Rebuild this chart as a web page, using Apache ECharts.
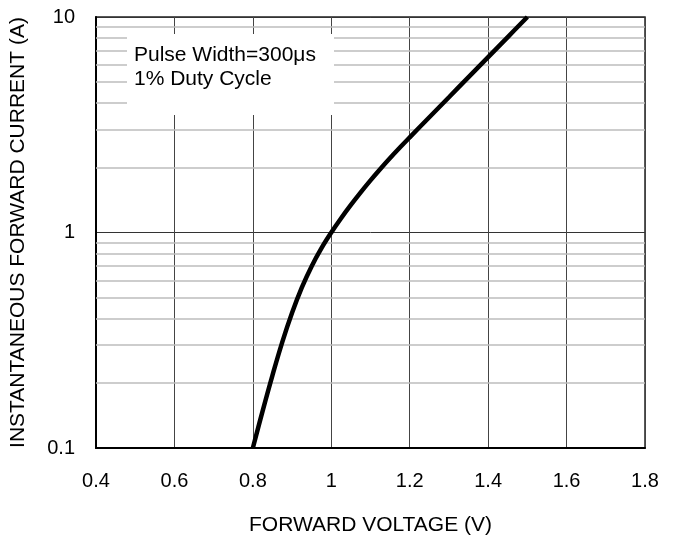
<!DOCTYPE html>
<html>
<head>
<meta charset="utf-8">
<script src="https://cdn.jsdelivr.net/npm/echarts@6/dist/echarts.min.js"></script>
<style>
html,body{margin:0;padding:0;background:#fff;}
#chart{width:678px;height:541px;}
</style>
</head>
<body>
<div id="chart"></div>
<script>
var voltage = [0.8, 0.825, 0.85, 0.875, 0.9, 0.925, 0.95, 0.975, 1.0, 1.025, 1.05, 1.075, 1.1, 1.125, 1.15, 1.175, 1.2, 1.25, 1.3, 1.35, 1.4, 1.45, 1.5];
var current = [0.1, 0.1488, 0.2175, 0.31, 0.424, 0.556, 0.698, 0.846, 1.0, 1.165, 1.343, 1.536, 1.746, 1.972, 2.217, 2.48, 2.765, 3.426, 4.244, 5.258, 6.514, 8.07, 10];
var minorLines = [0.2, 0.3, 0.4, 0.5, 0.6, 0.7, 0.8, 0.9, 2, 3, 4, 5, 6, 7, 8, 9];
var xTicks = [0.4, 0.6, 0.8, 1, 1.2, 1.4, 1.6, 1.8];
var yTicks = [0.1, 1, 10];
var noteLines = ['Pulse Width=300\u03bcs', '1% Duty Cycle'];

var font = 'Liberation Sans, Arial, sans-serif';
var chart = echarts.init(document.getElementById('chart'));
var curveData = voltage.map(function (v, i) { return [v, current[i]]; });

chart.setOption({
  animation: false,
  backgroundColor: '#fff',
  grid: { left: 95, right: 33, top: 17, bottom: 91, show: true, borderColor: '#222', borderWidth: 1.5, backgroundColor: 'transparent' },
  xAxis: {
    type: 'value', min: 0.4, max: 1.8, interval: 0.2,
    name: 'FORWARD VOLTAGE (V)', nameLocation: 'middle', nameGap: 67,
    nameTextStyle: { fontFamily: font, fontSize: 21, color: '#000' },
    axisLine: { show: true, lineStyle: { color: '#000', width: 2 } },
    axisTick: { show: false },
    axisLabel: { margin: 23, fontFamily: font, fontSize: 20, color: '#000',
      formatter: function (v) { return String(Math.round(v * 10) / 10); } },
    splitLine: { show: true, lineStyle: { color: '#444', width: 1 } }
  },
  yAxis: {
    type: 'log', logBase: 10, min: 0.1, max: 10,
    name: 'INSTANTANEOUS FORWARD CURRENT (A)', nameLocation: 'middle', nameGap: 67,
    nameTextStyle: { fontFamily: font, fontSize: 21, color: '#000' },
    axisLine: { show: true, lineStyle: { color: '#000', width: 2 } },
    axisTick: { show: false },
    axisLabel: { margin: 21, fontFamily: font, fontSize: 20, color: '#000',
      formatter: function (v) {
        for (var i = 0; i < yTicks.length; i++) { if (Math.abs(v - yTicks[i]) < 1e-9) return String(yTicks[i]); }
        return String(+v.toPrecision(3));
      } },
    splitLine: { show: true, lineStyle: { color: '#333', width: 1 } }
  },
  series: [
    {
      type: 'line', data: [], silent: true,
      markLine: {
        silent: true, symbol: ['none', 'none'], animation: false,
        label: { show: false },
        lineStyle: { color: '#bdbdbd', width: 1.5, type: 'solid' },
        data: minorLines.map(function (v) { return { yAxis: v }; })
      }
    },
    {
      type: 'line', data: curveData, smooth: 0.4, showSymbol: false, symbol: 'none',
      lineStyle: { color: '#000', width: 4.5 }, z: 5
    }
  ],
  graphic: [
    { type: 'rect', left: 127, top: 34, z: 100, shape: { width: 207, height: 81 }, style: { fill: '#fff' } },
    { type: 'text', left: 134, top: 45, z: 101, style: { text: noteLines[0], font: '21px ' + font, fill: '#000' } },
    { type: 'text', left: 134, top: 69, z: 101, style: { text: noteLines[1], font: '21px ' + font, fill: '#000' } }
  ]
});
</script>
</body>
</html>
